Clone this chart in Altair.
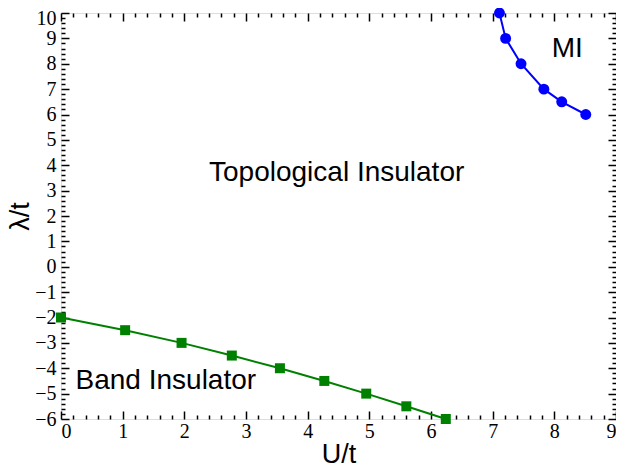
import altair as alt
import pandas as pd

# Band insulator boundary (green squares)
band_u = [0.0, 1.04, 1.955, 2.77, 3.55, 4.27, 4.95, 5.6, 6.24]
band_lam = [-2.0, -2.5, -3.0, -3.5, -4.0, -4.5, -5.0, -5.5, -6.0]

# Mott insulator boundary (blue circles)
mi_u = [7.11, 7.21, 7.46, 7.83, 8.12, 8.51]
mi_lam = [10.0, 9.0, 8.0, 7.0, 6.5, 6.0]

# Region labels
label_text = ["Topological Insulator", "Band Insulator", "MI"]
label_u = [4.47, 1.70, 8.21]
label_lam = [3.68, -4.5, 8.59]

x_major = list(range(0, 10))
x_minor = [round(i * 0.2, 1) for i in range(46) if i % 5 != 0]
y_major = list(range(-6, 11))
y_minor = [round(-6 + i * 0.2, 1) for i in range(81) if i % 5 != 0]

W, H = 555, 406

band = pd.DataFrame({"u": band_u, "lam": band_lam})
mi = pd.DataFrame({"u": mi_u, "lam": mi_lam})
labels = pd.DataFrame({"u": label_u, "lam": label_lam, "text": label_text})

xs = alt.Scale(domain=[0, 9], nice=False, zero=False)
ys = alt.Scale(domain=[-6, 10], nice=False, zero=False)

SERIF = "Liberation Serif"
SANS = "Liberation Sans"

# Axis with labels and titles (no ticks, ticks are drawn inward by other layers)
lab = alt.Chart(band).mark_point(opacity=0).encode(
    x=alt.X("u:Q", scale=xs, axis=alt.Axis(
        orient="bottom", values=x_major, format="d", ticks=False, tickSize=0,
        domain=False, grid=False, labelFont=SERIF, labelFontSize=20,
        labelPadding=2, labelColor="black", title="U/t", titleFont=SANS,
        titleFontSize=27, titleFontWeight="normal", titleColor="black",
        titlePadding=0)),
    y=alt.Y("lam:Q", scale=ys, axis=alt.Axis(
        orient="left", values=y_major, format="d", ticks=False, tickSize=0,
        domain=False, grid=False, labelFont=SERIF, labelFontSize=20,
        labelPadding=5, labelColor="black",
        labelOffset={"condition": {"test": "datum.value == 10", "value": 5}, "value": 0},
        title="λ/t", titleFont=SANS, titleFontSize=27,
        titleFontWeight="normal", titleColor="black", titlePadding=0)),
)


def tick_layer(ox, oy, xv, yv, size):
    return alt.Chart(band).mark_point(opacity=0).encode(
        x=alt.X("u:Q", scale=xs, axis=alt.Axis(
            orient=ox, offset=-H, values=xv, labels=False, domain=False,
            grid=False, ticks=True, tickSize=size, tickWidth=1.5,
            tickColor="black", title=None)),
        y=alt.Y("lam:Q", scale=ys, axis=alt.Axis(
            orient=oy, offset=-W, values=yv, labels=False, domain=False,
            grid=False, ticks=True, tickSize=size, tickWidth=1.5,
            tickColor="black", title=None)),
    )


t1 = tick_layer("top", "right", x_major, y_major, 8)
t2 = tick_layer("top", "right", x_minor, y_minor, 4)
t3 = tick_layer("bottom", "left", x_major, y_major, 8)
t4 = tick_layer("bottom", "left", x_minor, y_minor, 4)

enc_x = alt.X("u:Q", scale=xs, axis=None)
enc_y = alt.Y("lam:Q", scale=ys, axis=None)

band_line = alt.Chart(band).mark_line(color="#008000", strokeWidth=2).encode(x=enc_x, y=enc_y)
band_pts = alt.Chart(band).mark_point(shape="square", filled=True, size=100,
                                      color="#008000", opacity=1).encode(x=enc_x, y=enc_y)
mi_line = alt.Chart(mi).mark_line(color="#0000ff", strokeWidth=2).encode(x=enc_x, y=enc_y)
mi_pts = alt.Chart(mi).mark_point(shape="circle", filled=True, size=120,
                                  color="#0000ff", opacity=1).encode(x=enc_x, y=enc_y)

txt = alt.Chart(labels).mark_text(font=SANS, fontSize=28, align="center",
                                  baseline="middle", color="black").encode(
    x=enc_x, y=enc_y, text="text:N")

chart = alt.layer(
    lab, t1, t2, t3, t4, band_line, band_pts, mi_line, mi_pts, txt
).resolve_axis(x="independent", y="independent").properties(
    width=W, height=H,
    autosize=alt.AutoSizeParams(type="none"),
    padding={"left": 53, "top": 5, "right": 0, "bottom": 48},
).configure_view(stroke="black", strokeWidth=2).configure(background="white")

chart.save("out.html", embed_options={"renderer": "svg", "actions": False})
